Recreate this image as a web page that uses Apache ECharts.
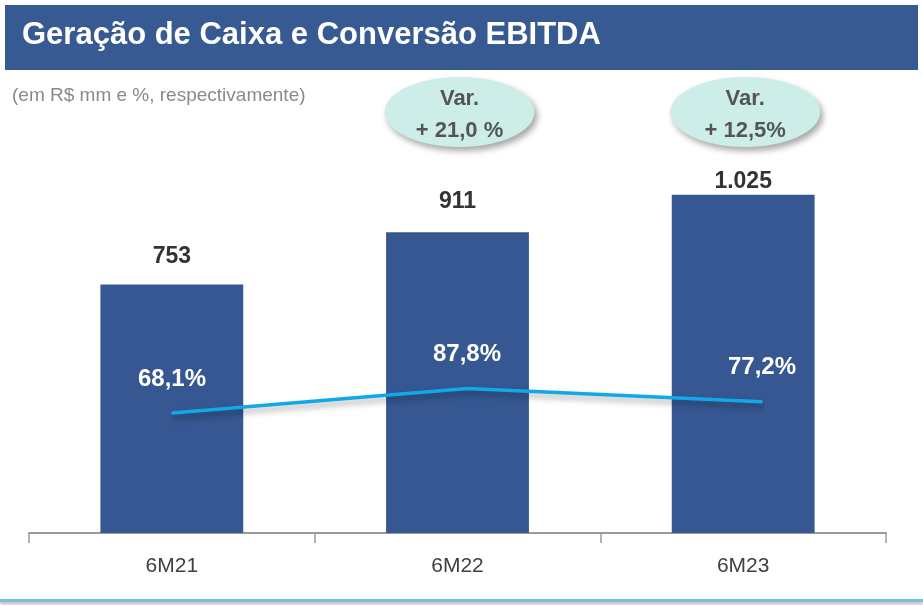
<!DOCTYPE html>
<html>
<head>
    <meta charset="utf-8">
    <title>Geração de Caixa e Conversão EBITDA</title>
    <script src="https://cdn.jsdelivr.net/npm/echarts@6/dist/echarts.min.js"></script>
    <style>
        html, body { margin: 0; padding: 0; background: #fff; }
        #main { width: 923px; height: 606px; }
    </style>
</head>
<body>
<div id="main"></div>
<script type="text/javascript">
    // dados
    var categorias = ['6M21', '6M22', '6M23'];
    var geracaoCaixa = [753, 911, 1025];
    var geracaoLabels = ['753', '911', '1.025'];
    var conversao = [68.1, 87.8, 77.2];
    var variacoes = ['', 'Var.\n+ 21,0 %', 'Var.\n+ 12,5%'];

    var FONT = '"Liberation Sans", Arial, sans-serif';
    var labelDist = [16, 19, 2];

    var dom = document.getElementById('main');
    var myChart = echarts.init(dom, null, { renderer: 'canvas' });

    var barData = geracaoCaixa.map(function (v, i) {
        return {
            value: v,
            label: { distance: labelDist[i], formatter: geracaoLabels[i] }
        };
    });

    var option = {
        animation: false,
        grid: [
            { left: 29, right: 37, top: 71, bottom: 73 },
            // a linha fica um pouco deslocada das barras no original
            { left: 172, right: 161, top: 71, bottom: 73 }
        ],
        xAxis: [
            {
                type: 'category',
                data: categorias,
                gridIndex: 0,
                axisLine: { lineStyle: { color: '#9a9a9a', width: 2 } },
                axisTick: { show: true, length: 10, lineStyle: { color: '#9a9a9a', width: 1.5 } },
                axisLabel: { color: '#404040', fontSize: 21, fontFamily: FONT, margin: 23 }
            },
            {
                type: 'category',
                data: categorias,
                gridIndex: 1,
                boundaryGap: false,
                show: false
            }
        ],
        yAxis: [
            { type: 'value', gridIndex: 0, min: 0, max: 1400, show: false, splitLine: { show: false } },
            { type: 'value', gridIndex: 1, min: -28, max: 342, show: false, splitLine: { show: false } }
        ],
        series: [
            {
                type: 'bar',
                data: barData,
                barWidth: '50%',
                itemStyle: { color: '#365792' },
                label: {
                    show: true,
                    position: 'top',
                    color: '#333333',
                    fontSize: 23,
                    fontWeight: 'bold',
                    fontFamily: FONT
                }
            },
            {
                type: 'line',
                xAxisIndex: 1,
                yAxisIndex: 1,
                data: conversao,
                symbol: 'circle',
                symbolSize: 2,
                itemStyle: { color: '#12A8E8' },
                lineStyle: {
                    color: '#12A8E8',
                    width: 3.5,
                    shadowColor: 'rgba(0,0,0,0.35)',
                    shadowBlur: 6,
                    shadowOffsetX: 2,
                    shadowOffsetY: 4
                },
                label: {
                    show: true,
                    position: 'top',
                    distance: 21,
                    color: '#ffffff',
                    fontSize: 24,
                    fontWeight: 'bold',
                    fontFamily: FONT,
                    formatter: function (p) {
                        return p.value.toFixed(1).replace('.', ',') + '%';
                    }
                },
                z: 5
            }
        ]
    };

    myChart.setOption(option);

    // moldura: barra de título, subtítulo, balões de variação
    var graphics = [
        {
            type: 'rect',
            shape: { x: 5, y: 5, width: 913, height: 65 },
            style: { fill: '#375A93' },
            z: 0
        },
        {
            type: 'text',
            left: 22, top: 20,
            style: {
                text: 'Geração de Caixa e Conversão EBITDA',
                fill: '#ffffff',
                font: 'bold 31px ' + FONT
            }
        },
        {
            type: 'text',
            left: 12, top: 86,
            style: {
                text: '(em R$ mm e %, respectivamente)',
                fill: '#8a8a8a',
                font: '19px ' + FONT
            }
        },
        {
            type: 'rect',
            shape: { x: 0, y: 599, width: 923, height: 3 },
            style: {
                fill: '#78BFE0',
                shadowColor: 'rgba(0,0,0,0.3)',
                shadowBlur: 3,
                shadowOffsetY: 2
            }
        }
    ];

    variacoes.forEach(function (txt, i) {
        if (!txt) return;
        var cx = myChart.convertToPixel({ xAxisIndex: 0 }, categorias[i]) + 2;
        graphics.push({
            type: 'ellipse',
            shape: { cx: cx, cy: 112, rx: 75, ry: 35 },
            style: {
                fill: '#CDEDE9',
                shadowColor: 'rgba(0,0,0,0.35)',
                shadowBlur: 6,
                shadowOffsetX: 3,
                shadowOffsetY: 4
            },
            z: 10
        });
        graphics.push({
            type: 'text',
            x: cx, y: 115,
            style: {
                text: txt,
                fill: '#555555',
                font: 'bold 22px ' + FONT,
                align: 'center',
                verticalAlign: 'middle',
                lineHeight: 32
            },
            z: 11
        });
    });

    myChart.setOption({ graphic: graphics });

    window.addEventListener('resize', myChart.resize);
</script>
</body>
</html>
